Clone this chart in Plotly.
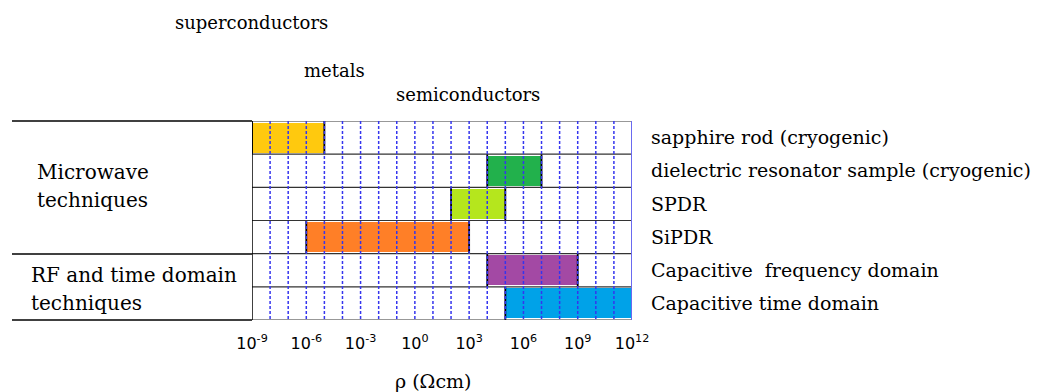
import plotly.graph_objects as go

# ---------------- data ----------------
methods = [
    "sapphire rod (cryogenic)",
    "dielectric resonator sample (cryogenic)",
    "SPDR",
    "SiPDR",
    "Capacitive \u00a0frequency domain",
    "Capacitive time domain",
]
log_rho_min = [-9, 4, 2, -6, 4, 5]
log_rho_max = [-5, 7, 5, 3, 9, 12]
bar_colors = ["#FFC90E", "#22B14C", "#B5E61D", "#FF7F27", "#A349A4", "#00A2E8"]
tick_exponents = [-9, -6, -3, 0, 3, 6, 9, 12]
tick_labels = ["10<sup>%d</sup>" % e for e in tick_exponents]
group_lines = [["Microwave", "techniques"], ["RF and time domain", "techniques"]]
material_classes = ["superconductors", "metals", "semiconductors"]
axis_title = "ρ (Ωcm)"

# ---------------- layout geometry ----------------
W, H = 1048, 392
px_x = lambda p: p / W
px_y = lambda p: 1 - p / H
x_dom = [px_x(252), px_x(632)]
y_dom = [px_y(320), px_y(121)]
xmin, xmax = tick_exponents[0], tick_exponents[-1]
n = len(methods)
SERIF = "DejaVu Serif"

fig = go.Figure()

# bars
fig.add_trace(go.Bar(
    orientation="h",
    y=list(range(n)),
    base=log_rho_min,
    x=[b - a for a, b in zip(log_rho_min, log_rho_max)],
    width=0.9,
    marker=dict(color=bar_colors, line=dict(width=0)),
    showlegend=False,
    hoverinfo="skip",
))

# black end marks of each range
ex, ey = [], []
for k, (a, b) in enumerate(zip(log_rho_min, log_rho_max)):
    for v in (a, b):
        ex += [v, v, None]
        ey += [k - 0.5, k + 0.5, None]
fig.add_trace(go.Scatter(x=ex, y=ey, mode="lines",
                         line=dict(color="black", width=1.8),
                         showlegend=False, hoverinfo="skip"))

# row separators
hx, hy = [], []
for k in range(n + 1):
    hx += [xmin, xmax, None]
    hy += [k - 0.5, k - 0.5, None]
fig.add_trace(go.Scatter(x=hx, y=hy, mode="lines",
                         line=dict(color="#333333", width=1.2),
                         showlegend=False, hoverinfo="skip"))

# dashed decade lines
vx, vy = [], []
for e in range(xmin + 1, xmax):
    vx += [e, e, None]
    vy += [-0.5, n - 0.5, None]
fig.add_trace(go.Scatter(x=vx, y=vy, mode="lines",
                         line=dict(color="#3535ee", width=1.5, dash="3px,2px"),
                         showlegend=False, hoverinfo="skip"))

# left / right borders
fig.add_trace(go.Scatter(x=[xmin, xmin], y=[-0.5, n - 0.5], mode="lines",
                         line=dict(color="black", width=1.5),
                         showlegend=False, hoverinfo="skip"))
fig.add_trace(go.Scatter(x=[xmax, xmax], y=[-0.5, n - 0.5], mode="lines",
                         line=dict(color="#6a6af0", width=2),
                         showlegend=False, hoverinfo="skip"))

# left group lines
for ypix in (121, 254, 320):
    fig.add_shape(type="line", xref="paper", yref="paper",
                  x0=px_x(12), x1=x_dom[0], y0=px_y(ypix), y1=px_y(ypix),
                  line=dict(color="black", width=1.5))

# group labels
group_pos = [[(35, 172), (35, 200)], [(29, 275), (29, 303)]]
for lines, pos in zip(group_lines, group_pos):
    for txt, (gx, gy) in zip(lines, pos):
        fig.add_annotation(text=txt, xref="paper", yref="paper",
                           x=px_x(gx), y=px_y(gy), xanchor="left", yanchor="middle",
                           showarrow=False, font=dict(family=SERIF, size=20, color="black"))

# material class labels
class_pos = [(251, 22), (334, 70), (468, 94)]
for txt, (cx, cy) in zip(material_classes, class_pos):
    fig.add_annotation(text=txt, xref="paper", yref="paper",
                       x=px_x(cx), y=px_y(cy), xanchor="center", yanchor="middle",
                       showarrow=False, font=dict(family=SERIF, size=18, color="black"))

# axis title
fig.add_annotation(text=axis_title, xref="paper", yref="paper",
                   x=px_x(433), y=px_y(381), xanchor="center", yanchor="middle",
                   showarrow=False, font=dict(family=SERIF, size=19, color="black"))

fig.update_layout(
    width=W, height=H,
    margin=dict(l=0, r=0, t=0, b=0),
    paper_bgcolor="white", plot_bgcolor="white",
    bargap=0,
    xaxis=dict(domain=x_dom, range=[xmin, xmax], showgrid=False, zeroline=False,
               tickvals=tick_exponents, ticktext=tick_labels, ticks="",
               ticklabelstandoff=12, automargin=False, fixedrange=True,
               tickfont=dict(family="DejaVu Sans", size=16, color="black")),
    yaxis=dict(domain=y_dom, range=[n - 0.5, -0.5], showgrid=False, zeroline=False,
               side="right", tickvals=list(range(n)), ticktext=methods, ticks="",
               ticklabelstandoff=18, automargin=False, fixedrange=True,
               tickfont=dict(family=SERIF, size=19, color="black")),
)

fig.write_html("out.html")
